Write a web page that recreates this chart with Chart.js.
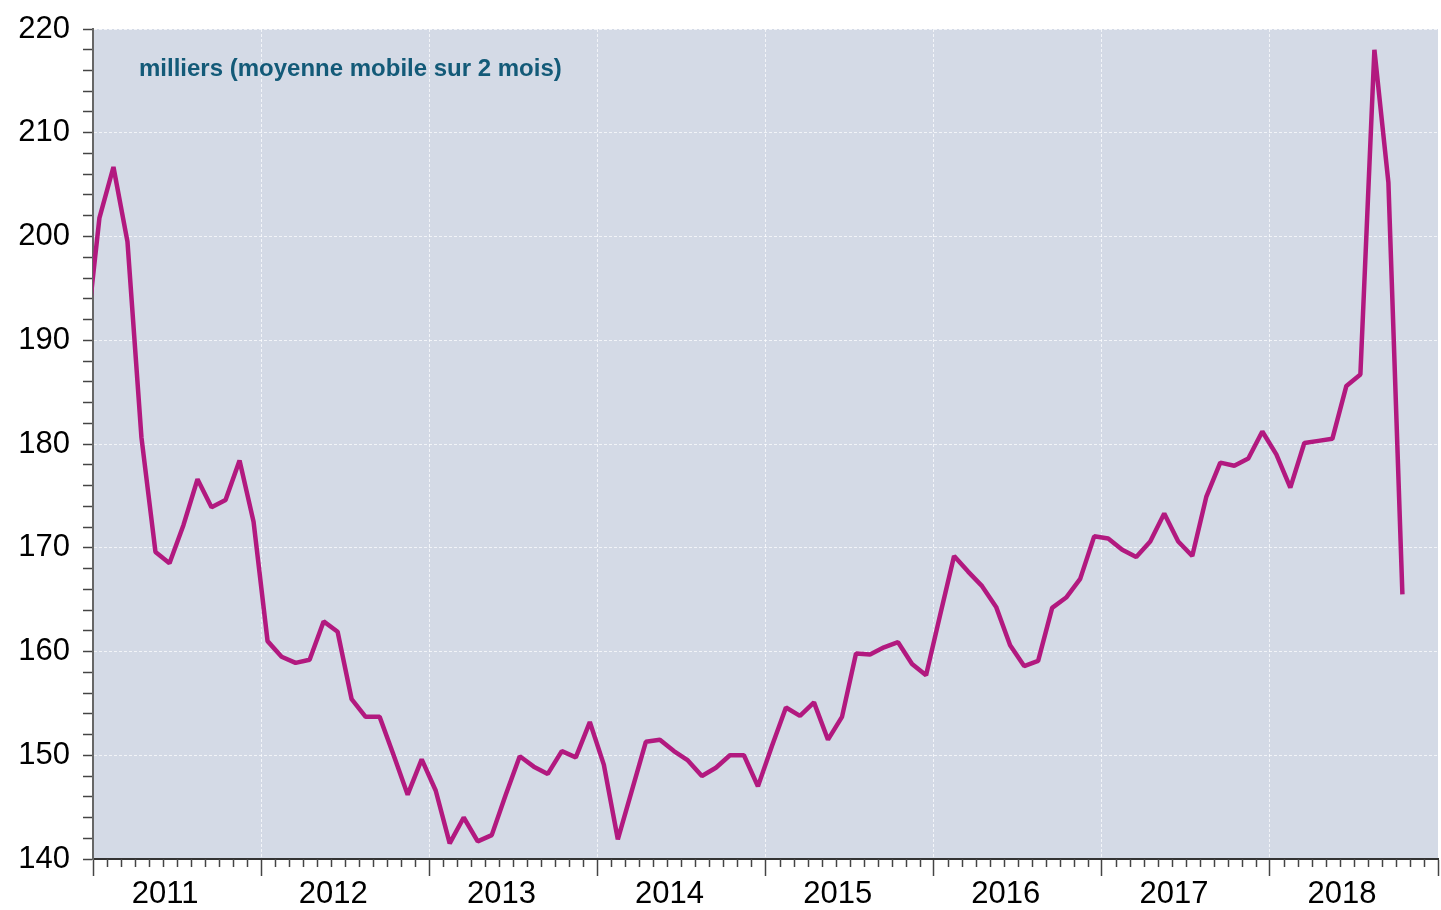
<!DOCTYPE html>
<html><head><meta charset="utf-8">
<script src="https://cdn.jsdelivr.net/npm/chart.js@4/dist/chart.umd.min.js"></script>
<style>html,body{margin:0;padding:0;background:#fff;overflow:hidden}</style>
</head><body>
<canvas id="c" width="1441" height="910" style="display:block;width:1441px;height:910px"></canvas>
<script>
const chartTitle = 'milliers (moyenne mobile sur 2 mois)';
const years = ['2011','2012','2013','2014','2015','2016','2017','2018'];
const yTickLabels = [140,150,160,170,180,190,200,210,220];
// monthly values (2-month moving average, thousands)
const values2010 = [189.5]; // December 2010
const values2011 = [201.8,206.7,199.5,180.6,169.6,168.5,172.2,176.6,173.9,174.6,178.4,172.5];
const values2012 = [161.0,159.5,158.9,159.2,162.9,161.9,155.4,153.7,153.7,150.0,146.2,149.6];
const values2013 = [146.6,141.5,144.0,141.7,142.3,146.2,149.9,148.9,148.2,150.4,149.8,153.2];
const values2014 = [149.1,141.9,146.6,151.3,151.5,150.4,149.5,148.0,148.8,150.0,150.0,147.0];
const values2015 = [150.9,154.6,153.8,155.1,151.5,153.7,159.8,159.7,160.4,160.9,158.8,157.7];
const values2016 = [163.5,169.2,167.7,166.3,164.3,160.6,158.6,159.1,164.2,165.2,167.0,171.1];
const values2017 = [170.9,169.8,169.1,170.6,173.3,170.6,169.2,174.9,178.2,177.9,178.6,181.2];
const values2018 = [179.0,175.8,180.1,180.3,180.5,185.6,186.7,218.0,205.2,165.5];

const allValues = [].concat(values2010,values2011,values2012,values2013,values2014,values2015,values2016,values2017,values2018);
const startMonth = -1;      // first value is December 2010 (month -1 relative to Jan 2011)
const midMonth = 0.46;      // values plotted at mid-month
const points = allValues.map((v,i)=>({x: startMonth + i + midMonth, y: v}));
const totalMonths = years.length * 12;
const labelOffset = 5.15;

const FONT = '"Liberation Sans", Arial, sans-serif';

const bgPlugin = {
  id:'bg',
  beforeDraw(chart){
    const {ctx, chartArea:a} = chart;
    ctx.save();
    ctx.fillStyle = '#d4dae6';
    ctx.fillRect(a.left, a.top, a.right-a.left, a.bottom-a.top);
    ctx.restore();
  }
};
const extrasPlugin = {
  id:'extras',
  afterDraw(chart){
    const {ctx, chartArea:a} = chart;
    const xs = chart.scales.x;
    ctx.save();
    ctx.strokeStyle = '#444';
    ctx.lineWidth = 1.5;
    ctx.beginPath();
    for (let m = 1; m < totalMonths; m++) {
      if (m % 12 === 0) continue;
      const px = Math.round(xs.getPixelForValue(m)) + 0.5;
      ctx.moveTo(px, a.bottom);
      ctx.lineTo(px, a.bottom + 8);
    }
    ctx.stroke();
    ctx.fillStyle = '#135a78';
    ctx.font = 'bold 24px ' + FONT;
    ctx.textBaseline = 'middle';
    ctx.textAlign = 'left';
    ctx.fillText(chartTitle, a.left + 46, 69);
    ctx.restore();
  }
};

new Chart(document.getElementById('c'), {
  type:'line',
  data:{ datasets:[{
    data: points,
    borderColor:'#b2197f',
    borderWidth:4.5,
    pointRadius:0,
    tension:0,
    borderJoinStyle:'bevel',
    clip:0
  }]},
  options:{
    responsive:false,
    animation:false,
    devicePixelRatio:1,
    layout:{ padding:{ top:29, right:3, bottom:0, left:0 } },
    plugins:{ legend:{display:false}, tooltip:{enabled:false}, title:{display:false} },
    scales:{
      x:{
        type:'linear', min:0, max:totalMonths,
        afterFit(s){ s.height = 51; },
        afterBuildTicks(s){
          const t = [];
          for (let k = 0; k <= years.length; k++) {
            t.push({value: k*12});
            if (k < years.length) t.push({value: k*12 + labelOffset});
          }
          s.ticks = t;
        },
        ticks:{
          autoSkip:false, maxRotation:0, minRotation:0, padding:3,
          color:'#000', font:{family:FONT, size:31, lineHeight:1},
          callback:(v)=>{ const r = v % 12; if (Math.abs(r - labelOffset) < 0.01) return years[Math.round((v-labelOffset)/12)]; return ''; }
        },
        grid:{
          color:(c)=> (c.tick && c.tick.value % 12 === 0 && c.tick.value > 0) ? 'rgba(255,255,255,0.7)' : 'rgba(0,0,0,0)',
          lineWidth:1,
          tickColor:(c)=> (c.tick && c.tick.value % 12 === 0) ? '#444' : 'rgba(0,0,0,0)',
          tickLength:17, tickWidth:1.5
        },
        border:{ color:'#333', width:2, dash:[3,2] }
      },
      y:{
        min:140, max:220,
        afterFit(s){ s.width = 93; },
        afterBuildTicks(s){
          const t = [];
          for (let v = 140; v <= 220; v += 2) t.push({value:v});
          s.ticks = t;
        },
        ticks:{
          autoSkip:false, padding:13, color:'#000',
          font:{family:FONT, size:31, lineHeight:1},
          callback:(v)=> yTickLabels.includes(v) ? String(v) : ''
        },
        grid:{
          color:(c)=> (c.tick && yTickLabels.includes(c.tick.value) && c.tick.value > 140) ? 'rgba(255,255,255,0.7)' : 'rgba(0,0,0,0)',
          lineWidth:1,
          tickColor:'#444', tickLength:10, tickWidth:1.5
        },
        border:{ color:'#666', width:2, dash:[3,2] }
      }
    }
  },
  plugins:[bgPlugin, extrasPlugin]
});
</script>
</body></html>
